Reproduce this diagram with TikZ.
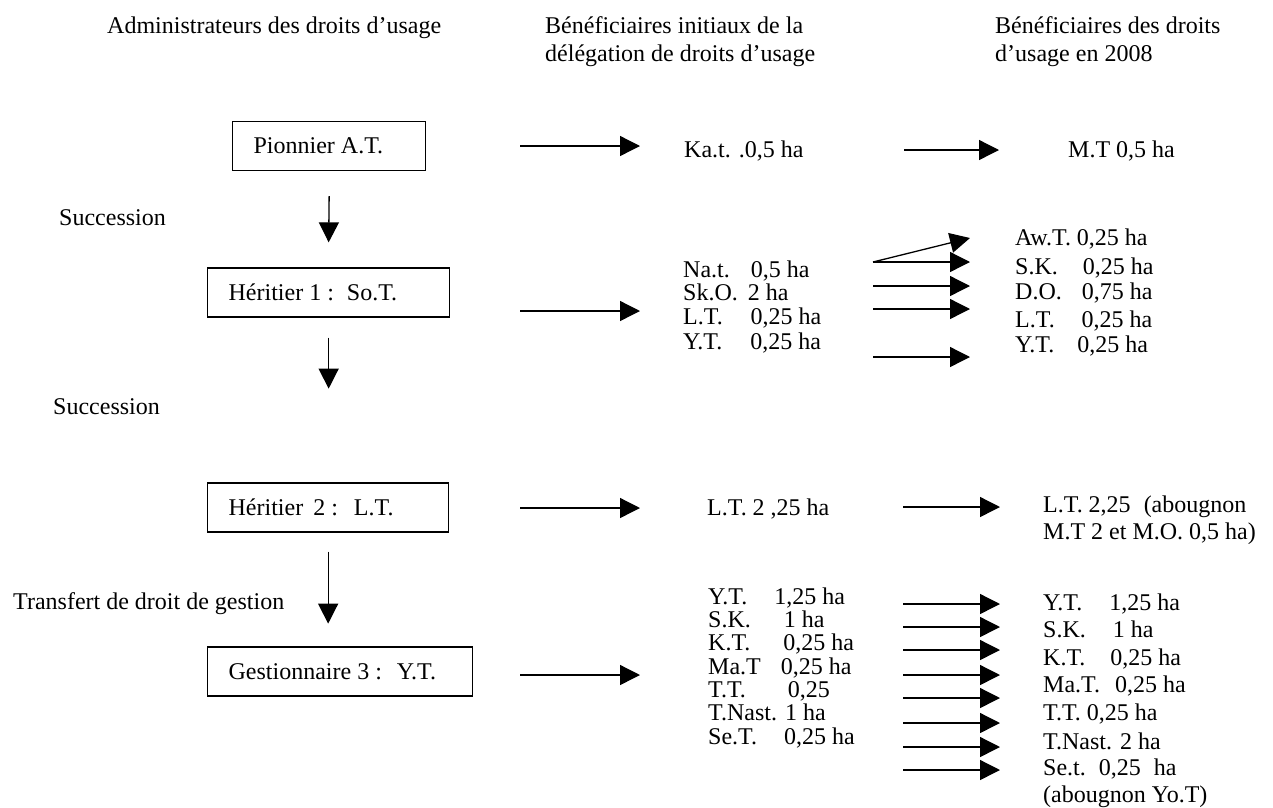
\documentclass[tikz,border=0pt]{standalone}
\usepackage{fontspec}
\setmainfont{Liberation Serif}
\usetikzlibrary{arrows.meta}
\begin{document}
\begin{tikzpicture}[x=1pt,y=-1pt,
  txt/.style={anchor=base west, inner sep=0pt, font=\fontsize{24}{24}\selectfont},
  box/.style={draw, line width=1.3pt, rectangle, anchor=west, minimum height=49pt,
    inner xsep=21pt, inner ysep=0pt, font=\fontsize{24}{24}\selectfont},
  arr/.style={line width=1.3pt, -{Triangle[length=20pt,width=20pt]}}]
\useasboundingbox (0,0) rectangle (1273,807);

% headers
\node[txt] (hA) at (107,33) {Administrateurs des droits d’usage};
\node[txt] (hB1) at (545,33) {Bénéficiaires initiaux de la};
\node[txt] (hB2) at (545,61) {délégation de droits d’usage};
\node[txt] (hC1) at (995,33) {Bénéficiaires des droits};
\node[txt] (hC2) at (995,61) {d’usage en 2008};

% boxes
\node[box] (pio) at (232,146) {\makebox[151pt][l]{Pionnier A.T.}};
\node[box] (h1) at (207,292.5) {\makebox[200pt][l]{Héritier 1 :\hspace{13pt}So.T.}};
\node[box] (h2) at (207,507.5) {\makebox[199pt][l]{Héritier\hspace{10pt}2 :\hspace{16pt}L.T.}};
\node[box] (g3) at (207,671.5) {\makebox[223pt][l]{Gestionnaire 3 :\hspace{15pt}Y.T.}};

% side labels
\node[txt] (s1) at (59,225) {Succession};
\node[txt] (s2) at (53,414) {Succession};
\node[txt] (tr) at (13,609) {Transfert de droit de gestion};

% vertical arrows
\draw[arr] ([yshift=-25pt]pio.south) -- ([yshift=25pt]h1.north);
\draw[arr] ([yshift=-20pt]h1.south) -- ([yshift=-71pt]h1.south);
\draw[arr] ([yshift=-19pt]h2.south) -- ([yshift=-91pt]h2.south);

% arrows from boxes
\coordinate (b0) at (520,146);
\coordinate (e0) at (640,146);
\coordinate (b1) at (520,311);
\coordinate (e1) at (640,311);
\coordinate (b2) at (520,508);
\coordinate (e2) at (640,508);
\coordinate (b3) at (520,675);
\coordinate (e3) at (640,675);
\draw[arr] (b0) -- (e0);
\draw[arr] (b1) -- (e1);
\draw[arr] (b2) -- (e2);
\draw[arr] (b3) -- (e3);

% row 1
\node[txt] (ka) at (684,157) {Ka.t. .0,5 ha};
\coordinate (r0s) at (904,150);
\coordinate (r0e) at (999,150);
\draw[arr] (r0s) -- (r0e);
\node[txt] (mt) at (1068,157) {M.T 0,5 ha};

% row 2 (Heritier 1)
\node[txt] (a1) at (683,277) {Na.t.\hspace{21pt}0,5 ha};
\node[txt] (a2) at (683,300) {Sk.O.\hspace{10pt}2 ha};
\node[txt] (a3) at (683,324) {L.T.\hspace{28pt}0,25 ha};
\node[txt] (a4) at (683,349) {Y.T.\hspace{28pt}0,25 ha};

\coordinate (p1) at (873,262);
\coordinate (q0) at (970,238);
\coordinate (q1) at (970,262);
\coordinate (p2) at (873,286);
\coordinate (q2) at (970,286);
\coordinate (p3) at (873,309);
\coordinate (q3) at (970,309);
\coordinate (p4) at (873,357);
\coordinate (q4) at (970,357);
\draw[arr] (p1) -- (q0);
\draw[arr] (p1) -- (q1);
\draw[arr] (p2) -- (q2);
\draw[arr] (p3) -- (q3);
\draw[arr] (p4) -- (q4);

\node[txt] (c1) at (1015,245) {Aw.T. 0,25 ha};
\node[txt] (c2) at (1015,274) {S.K.\hspace{25pt}0,25 ha};
\node[txt] (c3) at (1015,299) {D.O.\hspace{20pt}0,75 ha};
\node[txt] (c4) at (1015,327) {L.T.\hspace{27pt}0,25 ha};
\node[txt] (c5) at (1015,352) {Y.T.\hspace{23pt}0,25 ha};

% row 3 (Heritier 2)
\node[txt] (lt) at (707,515) {L.T. 2 ,25 ha};
\coordinate (r3s) at (903,507);
\coordinate (r3e) at (1000,507);
\draw[arr] (r3s) -- (r3e);
\node[txt] (lt1) at (1043,512) {L.T. 2,25\hspace{13pt}(abougnon};
\node[txt] (lt2) at (1043,539) {M.T 2 et M.O. 0,5 ha)};

% row 4 (Gestionnaire 3)
\node[txt] (d1) at (708,604) {Y.T.\hspace{27pt}1,25 ha};
\node[txt] (d2) at (708,627) {S.K.\hspace{33pt}1 ha};
\node[txt] (d3) at (708,650) {K.T.\hspace{33pt}0,25 ha};
\node[txt] (d4) at (708,674) {Ma.T\hspace{20pt}0,25 ha};
\node[txt] (d5) at (708,697) {T.T.\hspace{42pt}0,25};
\node[txt] (d6) at (708,720) {T.Nast. 1 ha};
\node[txt] (d7) at (708,744) {Se.T.\hspace{27pt}0,25 ha};

\foreach \yy [count=\i] in {604,627,650,675,698,723,747,770}{
  \coordinate (ls\i) at (903,\yy);
  \coordinate (le\i) at (1000,\yy);
  \draw[arr] (ls\i) -- (le\i);
}

\node[txt] (f1) at (1043,610) {Y.T.\hspace{27pt}1,25 ha};
\node[txt] (f2) at (1043,637) {S.K.\hspace{27pt}1 ha};
\node[txt] (f3) at (1043,665) {K.T.\hspace{25pt}0,25 ha};
\node[txt] (f4) at (1043,692) {Ma.T.\hspace{15pt}0,25 ha};
\node[txt] (f5) at (1043,720) {T.T. 0,25 ha};
\node[txt] (f6) at (1043,749) {T.Nast. 2 ha};
\node[txt] (f7) at (1043,775) {Se.t.\hspace{13pt}0,25\hspace{13pt}ha};
\node[txt] (f8) at (1043,802) {(abougnon Yo.T)};
\end{tikzpicture}
\end{document}
